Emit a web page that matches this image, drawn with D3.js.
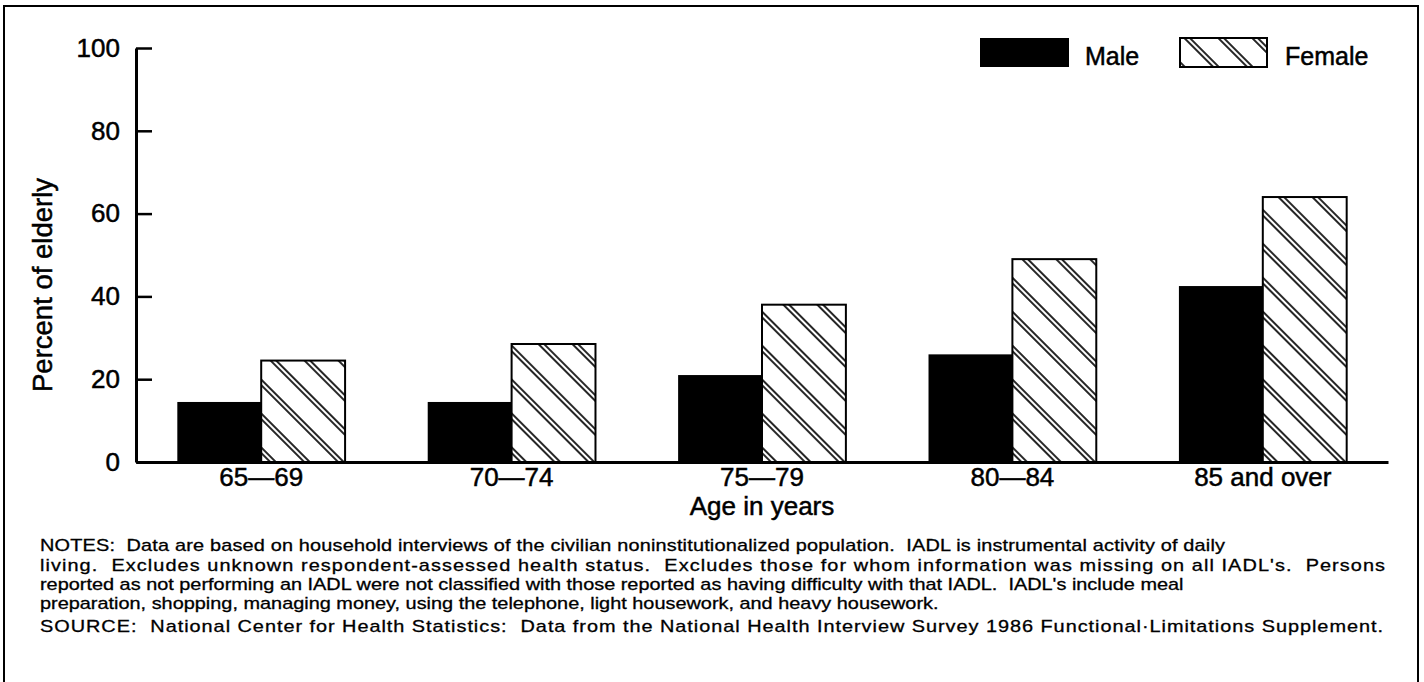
<!DOCTYPE html>
<html>
<head>
<meta charset="utf-8">
<script src="https://cdn.jsdelivr.net/npm/d3@7.9.0/dist/d3.min.js"></script>
<style>
  body { margin: 0; background: #fff; }
  svg text { font-family: "Liberation Sans", Arial, Helvetica, sans-serif; fill: #000; white-space: pre; }
  .big { stroke: #000; stroke-width: 0.5px; }
  .note { stroke: #000; stroke-width: 0.3px; font-size: 17px; }
</style>
</head>
<body>
<svg id="chart" width="1424" height="682"></svg>
<script>
// values (percent of elderly with IADL difficulty)
const ageGroups = ["65—69", "70—74", "75—79", "80—84", "85 and over"];
const seriesNames = ["Male", "Female"];
const maleValues = [14.5, 14.5, 21, 26, 42.5];
const femaleValues = [24.5, 28.5, 38, 49, 64];
const yTicks = [0, 20, 40, 60, 80, 100];

const notesLines = [
  "NOTES:  Data are based on household interviews of the civilian noninstitutionalized population.  IADL is instrumental activity of daily",
  "living.  Excludes unknown respondent-assessed health status.  Excludes those for whom information was missing on all IADL's.  Persons",
  "reported as not performing an IADL were not classified with those reported as having difficulty with that IADL.  IADL's include meal",
  "preparation, shopping, managing money, using the telephone, light housework, and heavy housework."
];
const sourceLine = "SOURCE:  National Center for Health Statistics:  Data from the National Health Interview Survey 1986 Functional·Limitations Supplement.";

const svg = d3.select('#chart');

// outer frame (bottom edge runs off the page like in the scan)
svg.append('rect')
  .attr('x', 4).attr('y', 6)
  .attr('width', 1414).attr('height', 700)
  .attr('fill', 'none')
  .attr('stroke', '#000')
  .attr('stroke-width', 2);

// hatch pattern for female bars: pairs of "\" lines
const defs = svg.append('defs');
const hatch = defs.append('pattern')
  .attr('id', 'hatch')
  .attr('patternUnits', 'userSpaceOnUse')
  .attr('width', 24).attr('height', 24)
  .attr('patternTransform', 'rotate(-45)');
hatch.append('rect').attr('width', 24).attr('height', 24).attr('fill', '#fff');
[3, 7].forEach(px => {
  hatch.append('line')
    .attr('x1', px).attr('x2', px)
    .attr('y1', 0).attr('y2', 24)
    .attr('stroke', '#000')
    .attr('stroke-width', 1.7);
});

// scales
let y = d3.scaleLinear().domain([0, 100]).range([462, 48]);
let x0 = d3.scaleBand().domain(ageGroups).range([136, 1388])
  .paddingInner(0.33).paddingOuter(0.165);
let x1 = d3.scaleBand().domain(seriesNames).range([0, x0.bandwidth()]);

// bars
let data = ageGroups.map((g, i) => ({ group: g, values: [maleValues[i], femaleValues[i]] }));
let groups = svg.append('g').selectAll('g')
  .data(data)
  .join('g')
  .attr('transform', d => `translate(${x0(d.group)},0)`);

groups.selectAll('rect')
  .data(d => d.values.map((v, i) => ({ key: seriesNames[i], value: v })))
  .join('rect')
  .attr('x', d => x1(d.key))
  .attr('y', d => y(d.value))
  .attr('width', x1.bandwidth())
  .attr('height', d => y(0) - y(d.value))
  .attr('fill', d => d.key === 'Male' ? '#000' : 'url(#hatch)')
  .attr('stroke', '#000')
  .attr('stroke-width', d => d.key === 'Male' ? 0 : 2);

// y axis, ticks point inward
let yAxis = svg.append('g')
  .attr('transform', 'translate(136,0)')
  .call(d3.axisLeft(y).tickValues(yTicks).tickSizeInner(-16).tickSizeOuter(0).tickPadding(16));
yAxis.select('.domain').attr('stroke-width', 3);
yAxis.selectAll('.tick line').attr('stroke-width', 2.5);
yAxis.selectAll('.tick text')
  .attr('class', 'big')
  .style('font-size', '26px')
  .attr('fill', '#000');

// x axis, baseline only
let xAxis = svg.append('g')
  .attr('transform', 'translate(0,462)')
  .call(d3.axisBottom(x0).tickSize(0).tickPadding(6));
xAxis.select('.domain').attr('stroke-width', 3);
xAxis.selectAll('.tick text')
  .attr('class', 'big')
  .style('font-size', '26px')
  .attr('fill', '#000');

// axis titles
svg.append('text')
  .attr('class', 'big')
  .attr('x', 762).attr('y', 515)
  .attr('text-anchor', 'middle')
  .style('font-size', '26px')
  .text('Age in years');

svg.append('text')
  .attr('class', 'big')
  .attr('transform', 'translate(52,285) rotate(-90)')
  .attr('text-anchor', 'middle')
  .style('font-size', '27.5px')
  .text('Percent of elderly');

// legend
let legendX = [980, 1180];
let legend = svg.append('g').selectAll('g')
  .data(seriesNames)
  .join('g')
  .attr('transform', (d, i) => `translate(${legendX[i]},38)`);
legend.append('rect')
  .attr('width', d => d === 'Male' ? 89 : 87)
  .attr('height', 29)
  .attr('fill', d => d === 'Male' ? '#000' : 'url(#hatch)')
  .attr('stroke', '#000')
  .attr('stroke-width', d => d === 'Male' ? 0 : 2);
legend.append('text')
  .attr('class', 'big')
  .attr('x', 105)
  .attr('y', 27)
  .style('font-size', '25px')
  .text(d => d);

// notes block: the scan's type is wide and tightly leaded, so squeeze the
// font vertically by drawing it smaller and widening the group
const sx = 1.17;
let noteEnds = [1225, 1385, null, null];
let notesG = svg.append('g')
  .attr('transform', `translate(40,0) scale(${sx},1)`);

notesG.selectAll('text')
  .data(notesLines)
  .join('text')
  .attr('class', 'note')
  .attr('x', 0)
  .attr('y', (d, i) => 551.5 + i * 19.2)
  .each(function (d, i) {
    if (noteEnds[i]) {
      d3.select(this)
        .attr('textLength', (noteEnds[i] - 40) / sx)
        .attr('lengthAdjust', 'spacing');
    }
  })
  .text(d => d);

notesG.append('text')
  .attr('class', 'note')
  .attr('x', 0).attr('y', 632)
  .attr('textLength', (1383 - 40) / sx)
  .attr('lengthAdjust', 'spacing')
  .text(sourceLine);
</script>
</body>
</html>
